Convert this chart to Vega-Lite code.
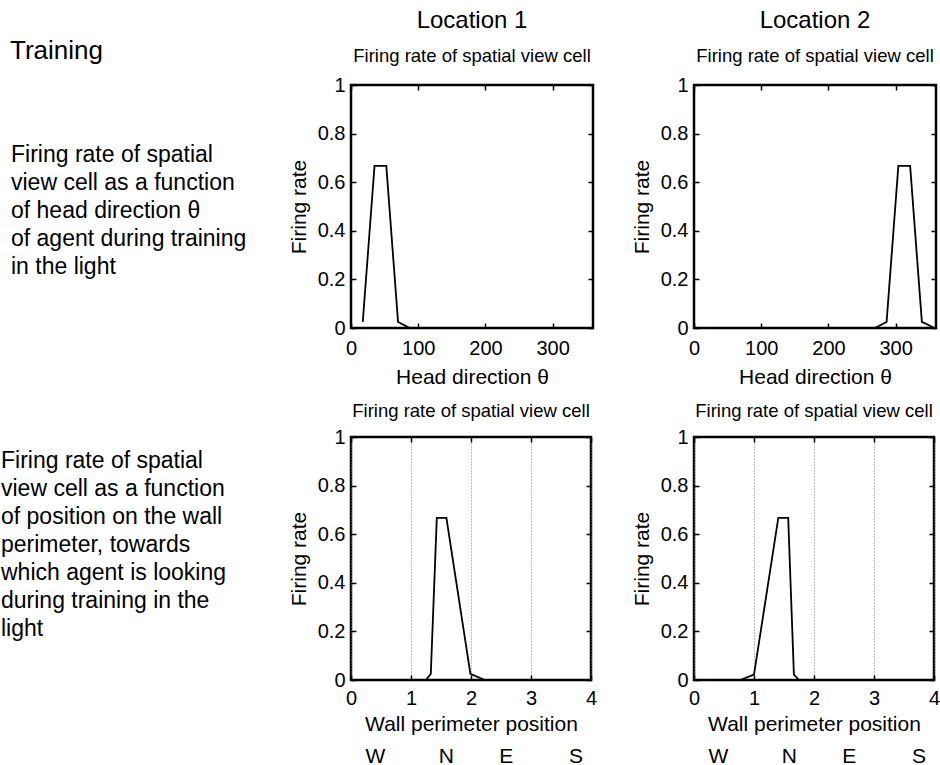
{
  "$schema": "https://vega.github.io/schema/vega-lite/v6.json",
  "padding": {"left": 1, "top": 7, "right": 0, "bottom": 0},
  "bounds": "flush",
  "columns": 3,
  "align": "each",
  "spacing": {"row": 109, "column": 101},
  "config": {
    "font": "Liberation Sans",
    "view": {"stroke": "black", "strokeWidth": 2.5},
    "axis": {
      "domain": false, "grid": false, "ticks": true, "tickColor": "black", "tickWidth": 1.5, "tickSize": -5,
      "labelColor": "black", "labelFontSize": 20, "labelFlush": false, "labelPadding": 12,
      "titleColor": "black", "titleFontSize": 21, "titleFontWeight": "normal", "titlePadding": 8
    },
    "title": {"fontWeight": "normal", "color": "black", "subtitleColor": "black", "anchor": "middle", "frame": "group"},
    "line": {"color": "black", "strokeWidth": 1.8},
    "text": {"color": "black"}
  },
  "datasets": {
    "tl": [{"x": 17.5, "rate": 0.025}, {"x": 35, "rate": 0.667}, {"x": 52.5, "rate": 0.667}, {"x": 70, "rate": 0.025}, {"x": 87.5, "rate": 0}, {"x": 360, "rate": 0}],
    "tr": [{"x": 269, "rate": 0}, {"x": 286.5, "rate": 0.025}, {"x": 304, "rate": 0.667}, {"x": 321.5, "rate": 0.667}, {"x": 339, "rate": 0.025}, {"x": 358, "rate": 0}],
    "bl": [{"x": 1.25, "rate": 0}, {"x": 1.33, "rate": 0.025}, {"x": 1.43, "rate": 0.667}, {"x": 1.59, "rate": 0.667}, {"x": 1.99, "rate": 0.025}, {"x": 2.23, "rate": 0}],
    "br": [{"x": 0.77, "rate": 0}, {"x": 1.0, "rate": 0.022}, {"x": 1.405, "rate": 0.667}, {"x": 1.57, "rate": 0.667}, {"x": 1.665, "rate": 0.022}, {"x": 1.75, "rate": 0}]
  },
  "concat": [
    {
      "width": 249, "height": 243,
      "view": {"stroke": null},
      "title": {"text": "Training", "anchor": "start", "fontSize": 26, "dx": 9, "offset": 21},
      "data": {"values": [{"text": "Firing rate of spatial\nview cell as a function\nof head direction θ\nof agent during training\nin the light"}]},
      "mark": {"type": "text", "align": "left", "baseline": "middle", "fontSize": 23, "lineHeight": 28, "lineBreak": "\n", "dx": 10, "dy": -52},
      "encoding": {
        "text": {"field": "text"},
        "x": {"datum": 0, "type": "quantitative", "scale": {"domain": [0, 1]}, "axis": null}
      }
    },
    {
      "width": 242, "height": 243,
      "title": {"text": "Location 1", "subtitle": "Firing rate of spatial view cell", "fontSize": 24, "subtitleFontSize": 18.5, "subtitlePadding": 14, "offset": 10},
      "data": {"name": "tl"},
      "layer": [
        {"mark": "line", "encoding": {
          "x": {"field": "x", "type": "quantitative", "scale": {"domain": [0, 360], "nice": false}, "axis": {"values": [0, 100, 200, 300], "title": "Head direction θ", "labelPadding": 15}},
          "y": {"field": "rate", "type": "quantitative", "scale": {"domain": [0, 1], "nice": false}, "axis": {"values": [0, 0.2, 0.4, 0.6, 0.8, 1], "format": "~g", "title": "Firing rate", "labelPadding": 11}}
        }},
        {"mark": {"type": "line", "opacity": 0}, "encoding": {
          "x": {"field": "x", "type": "quantitative", "axis": {"orient": "top", "values": [0, 100, 200, 300], "labels": false, "title": null}},
          "y": {"field": "rate", "type": "quantitative", "axis": {"orient": "right", "values": [0, 0.2, 0.4, 0.6, 0.8, 1], "labels": false, "title": null}}
        }}
      ],
      "resolve": {"axis": {"x": "independent", "y": "independent"}}
    },
    {
      "width": 242, "height": 243,
      "title": {"text": "Location 2", "subtitle": "Firing rate of spatial view cell", "fontSize": 24, "subtitleFontSize": 18.5, "subtitlePadding": 14, "offset": 10},
      "data": {"name": "tr"},
      "layer": [
        {"mark": "line", "encoding": {
          "x": {"field": "x", "type": "quantitative", "scale": {"domain": [0, 360], "nice": false}, "axis": {"values": [0, 100, 200, 300], "title": "Head direction θ", "labelPadding": 15}},
          "y": {"field": "rate", "type": "quantitative", "scale": {"domain": [0, 1], "nice": false}, "axis": {"values": [0, 0.2, 0.4, 0.6, 0.8, 1], "format": "~g", "title": "Firing rate", "labelPadding": 11}}
        }},
        {"mark": {"type": "line", "opacity": 0}, "encoding": {
          "x": {"field": "x", "type": "quantitative", "axis": {"orient": "top", "values": [0, 100, 200, 300], "labels": false, "title": null}},
          "y": {"field": "rate", "type": "quantitative", "axis": {"orient": "right", "values": [0, 0.2, 0.4, 0.6, 0.8, 1], "labels": false, "title": null}}
        }}
      ],
      "resolve": {"axis": {"x": "independent", "y": "independent"}}
    },
    {
      "width": 249, "height": 243,
      "view": {"stroke": null},
      "data": {"values": [{"text": "Firing rate of spatial\nview cell as a function\nof position on the wall\nperimeter, towards\nwhich agent is looking\nduring training in the\nlight"}]},
      "mark": {"type": "text", "align": "left", "baseline": "middle", "fontSize": 23, "lineHeight": 28, "lineBreak": "\n", "dy": -98},
      "encoding": {
        "text": {"field": "text"},
        "x": {"datum": 0, "type": "quantitative", "scale": {"domain": [0, 1]}, "axis": null}
      }
    },
    {
      "width": 240, "height": 243,
      "title": {"text": "Firing rate of spatial view cell", "fontSize": 18.5, "offset": 7},
      "data": {"name": "bl"},
      "layer": [
        {"mark": "line", "encoding": {
          "x": {"field": "x", "type": "quantitative", "scale": {"domain": [0, 4], "nice": false}, "axis": {"values": [0, 1, 2, 3, 4], "title": "Wall perimeter position", "labelPadding": 13, "titlePadding": 5, "grid": true, "gridDash": [1, 2], "gridColor": "#777777", "gridWidth": 1}},
          "y": {"field": "rate", "type": "quantitative", "scale": {"domain": [0, 1], "nice": false}, "axis": {"values": [0, 0.2, 0.4, 0.6, 0.8, 1], "format": "~g", "title": "Firing rate", "labelPadding": 11}}
        }},
        {"mark": {"type": "line", "opacity": 0}, "encoding": {
          "x": {"field": "x", "type": "quantitative", "axis": {"orient": "top", "values": [0, 1, 2, 3, 4], "labels": false, "title": null}},
          "y": {"field": "rate", "type": "quantitative", "axis": {"orient": "right", "values": [0, 0.2, 0.4, 0.6, 0.8, 1], "labels": false, "title": null}}
        }},
        {"mark": {"type": "line", "opacity": 0}, "encoding": {
          "x": {"field": "x", "type": "quantitative", "axis": {"orient": "bottom", "offset": 65, "values": [0.4, 1.58, 2.58, 3.74], "labelExpr": "datum.value < 1 ? 'W' : datum.value < 2 ? 'N' : datum.value < 3 ? 'E' : 'S'", "ticks": false, "labelFontSize": 21, "labelPadding": 0, "title": null}},
          "y": {"field": "rate", "type": "quantitative", "axis": null}
        }}
      ],
      "resolve": {"axis": {"x": "independent", "y": "independent"}}
    },
    {
      "width": 240, "height": 243,
      "title": {"text": "Firing rate of spatial view cell", "fontSize": 18.5, "offset": 7},
      "data": {"name": "br"},
      "layer": [
        {"mark": "line", "encoding": {
          "x": {"field": "x", "type": "quantitative", "scale": {"domain": [0, 4], "nice": false}, "axis": {"values": [0, 1, 2, 3, 4], "title": "Wall perimeter position", "labelPadding": 13, "titlePadding": 5, "grid": true, "gridDash": [1, 2], "gridColor": "#777777", "gridWidth": 1}},
          "y": {"field": "rate", "type": "quantitative", "scale": {"domain": [0, 1], "nice": false}, "axis": {"values": [0, 0.2, 0.4, 0.6, 0.8, 1], "format": "~g", "title": "Firing rate", "labelPadding": 11}}
        }},
        {"mark": {"type": "line", "opacity": 0}, "encoding": {
          "x": {"field": "x", "type": "quantitative", "axis": {"orient": "top", "values": [0, 1, 2, 3, 4], "labels": false, "title": null}},
          "y": {"field": "rate", "type": "quantitative", "axis": {"orient": "right", "values": [0, 0.2, 0.4, 0.6, 0.8, 1], "labels": false, "title": null}}
        }},
        {"mark": {"type": "line", "opacity": 0}, "encoding": {
          "x": {"field": "x", "type": "quantitative", "axis": {"orient": "bottom", "offset": 65, "values": [0.4, 1.58, 2.58, 3.74], "labelExpr": "datum.value < 1 ? 'W' : datum.value < 2 ? 'N' : datum.value < 3 ? 'E' : 'S'", "ticks": false, "labelFontSize": 21, "labelPadding": 0, "title": null}},
          "y": {"field": "rate", "type": "quantitative", "axis": null}
        }}
      ],
      "resolve": {"axis": {"x": "independent", "y": "independent"}}
    }
  ]
}
